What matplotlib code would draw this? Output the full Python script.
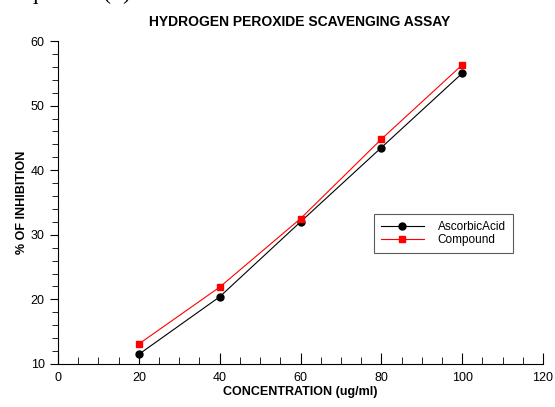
import matplotlib
matplotlib.use("Agg")
import matplotlib.pyplot as plt
from matplotlib.ticker import MultipleLocator

# data
conc = [20, 40, 60, 80, 100]
ascorbic = [11.5, 20.4, 32.0, 43.5, 55.0]
compound = [13.1, 21.9, 32.5, 44.8, 56.3]

FONT = ['Liberation Sans Narrow', 'Liberation Sans', 'DejaVu Sans']
plt.rcParams['font.family'] = FONT

fig = plt.figure(figsize=(5.55, 4.07), dpi=100)
# axes box in pixels: x 58..543, y 41..364 (of 407)
ax = fig.add_axes([58 / 555, 1 - 364 / 407, 485 / 555, 323 / 407])

ax.plot(conc, ascorbic, color='black', lw=0.8, marker='o', ms=5,
        label='AscorbicAcid', clip_on=False)
ax.plot(conc, compound, color='red', lw=0.8, marker='s', ms=5,
        label='Compound', clip_on=False)

ax.set_xlim(0, 120)
ax.set_ylim(10, 60)
for s in ['top', 'right']:
    ax.spines[s].set_visible(False)
ax.spines['left'].set_linewidth(0.8)
ax.spines['bottom'].set_linewidth(0.8)

ax.xaxis.set_major_locator(MultipleLocator(20))
ax.xaxis.set_minor_locator(MultipleLocator(5))
ax.yaxis.set_major_locator(MultipleLocator(10))
ax.yaxis.set_minor_locator(MultipleLocator(2))
ax.tick_params(axis='x', which='both', direction='in', labelsize=9, pad=6)
ax.tick_params(axis='x', which='major', length=8)
ax.tick_params(axis='x', which='minor', length=5)
ax.tick_params(axis='y', which='both', direction='out', labelsize=9)
ax.tick_params(axis='y', which='major', length=6)
ax.tick_params(axis='y', which='minor', length=4)

ax.set_xlabel('CONCENTRATION (ug/ml)', fontsize=9, fontweight='bold', labelpad=1)
ax.set_ylabel('% OF INHIBITION', fontsize=9, fontweight='bold', labelpad=2)
fig.text(0.54, 1 - 22 / 407, 'HYDROGEN PEROXIDE SCAVENGING ASSAY', ha='center',
         va='center', fontsize=10, fontweight='bold')

# clipped caption line from the page above the chart (only its bottom shows)
fig.text(16 / 555, 1 + 1.5 / 407, 'equation (1).', family='Liberation Serif',
         fontsize=17, va='baseline', ha='left')

leg = ax.legend(loc='upper left', bbox_to_anchor=((374 - 58) / 485, (364 - 214) / 323),
                borderaxespad=0, fontsize=8.5, frameon=True, fancybox=False,
                edgecolor='#333333', handlelength=3.6, handletextpad=1.2,
                borderpad=0.6, labelspacing=0.1)
leg.get_frame().set_linewidth(0.8)

fig.savefig('out.png', dpi=100)
